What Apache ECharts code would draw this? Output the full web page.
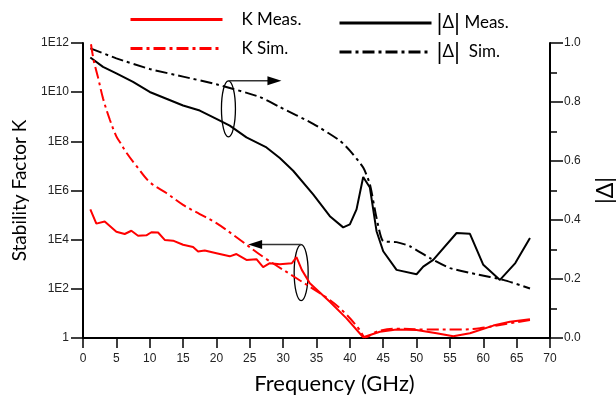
<!DOCTYPE html>
<html>
<head>
<meta charset="utf-8">
<script src="https://cdn.jsdelivr.net/npm/echarts@6/dist/echarts.min.js"></script>
<style>
  html, body { margin: 0; padding: 0; background: #fff; }
  #chart { width: 616px; height: 401px; }
</style>
</head>
<body>
<div id="chart"></div>
<script>
// K measured (left log axis)
const kMeasFreq = [1.1, 2.0, 3.25, 5.0, 6.25, 7.25, 8.25, 9.5, 10.25, 11.25, 12.25, 13.5, 15, 16.5, 17.25, 18.25, 20, 22, 23, 24.5, 26, 27, 28, 29.5, 31.3, 32, 32.8, 34, 37, 39.5, 42, 44.5, 47, 50, 53, 55.5, 58, 61.5, 64, 67];
const kMeas = [1.7e5, 4.5e4, 5.5e4, 2.1e4, 1.7e4, 2.3e4, 1.45e4, 1.5e4, 2.0e4, 1.95e4, 9.8e3, 9.1e3, 6.2e3, 5.0e3, 3.3e3, 3.6e3, 2.8e3, 2.1e3, 2.6e3, 1.5e3, 1.6e3, 760, 1.1e3, 1.0e3, 1.1e3, 1.95e3, 590, 170, 30, 6.3, 1.07, 1.8, 2.2, 2.1, 1.55, 1.17, 1.55, 3.2, 4.6, 5.8];

// K simulated (left log axis)
const kSimFreq = [1.2, 1.6, 2.25, 3.0, 4, 5, 5.7, 6.5, 8, 10, 12.5, 15, 17.5, 20, 23, 27, 32, 37, 39.5, 41.5, 42.3, 44, 46.5, 51.5, 56.5, 59.5, 62.5, 67];
const kSim = [8.9e11, 2.0e11, 4.0e10, 5.6e9, 7.9e8, 1.6e8, 7.9e7, 3.5e7, 1.0e7, 2.2e6, 7.9e5, 2.6e5, 1.1e5, 4.7e4, 1.26e4, 2.0e3, 270, 35, 8.9, 2.1, 1.07, 1.8, 2.4, 2.2, 2.2, 2.5, 3.4, 5.4];

// |Delta| measured (right axis)
const dMeasFreq = [1.1, 3, 5, 7.5, 10, 12.5, 15, 17.5, 20, 22, 24.5, 27.5, 29.5, 31.5, 34.5, 37, 39, 40, 41, 42, 43, 44, 45, 47, 50, 51, 52.5, 56, 58, 60, 62.5, 64.8, 67];
const dMeas = [0.951, 0.919, 0.897, 0.868, 0.834, 0.811, 0.788, 0.771, 0.743, 0.72, 0.68, 0.646, 0.61, 0.567, 0.487, 0.413, 0.375, 0.385, 0.436, 0.546, 0.51, 0.362, 0.294, 0.231, 0.216, 0.242, 0.265, 0.356, 0.353, 0.248, 0.197, 0.254, 0.339];

// |Delta| simulated (right axis)
const dSimFreq = [1.1, 5, 10, 15, 20, 26.5, 29.5, 34.5, 38.5, 40, 42, 43, 44, 45, 47, 49, 52, 55, 59, 63, 67];
const dSim = [0.982, 0.948, 0.912, 0.886, 0.86, 0.817, 0.783, 0.726, 0.669, 0.635, 0.578, 0.521, 0.407, 0.328, 0.325, 0.311, 0.271, 0.237, 0.216, 0.197, 0.168];

const freqTicks = { min: 0, max: 70, interval: 5 };
const deltaTicks = { min: 0, max: 1, interval: 0.2 };

const pairs = (xs, ys) => xs.map((x, i) => [x, ys[i]]);
const dashDot = [12, 4, 3, 4];
const tickFont = { fontFamily: 'Liberation Sans', fontSize: 12, color: '#222' };
const titleFont = 'Lato';

const chart = echarts.init(document.getElementById('chart'));

function legendAt(name, left, top) {
  return {
    data: [name],
    left: left,
    top: top,
    padding: 0,
    itemWidth: 92,
    itemHeight: 14,
    selectedMode: false,
    itemStyle: { opacity: 0, borderWidth: 0 },
    lineStyle: { width: 3 },
    textStyle: {
      fontFamily: titleFont,
      fontSize: 17,
      color: '#000',
      padding: name.startsWith('K') ? [0, 0, 0, 14] : [0, 0, 0, 0],
      rich: { b: { fontSize: 24, fontFamily: titleFont, color: '#000' } }
    },
    formatter: n => n.startsWith('K') ? n : n.replace(/\|/g, '{b||}')
  };
}

const option = {
  animation: false,
  grid: { left: 83, right: 66, top: 43, bottom: 63, outerBoundsMode: 'none', containLabel: false },
  legend: [
    legendAt('K Meas.', 129, 11),
    legendAt('K Sim.', 129, 40),
    legendAt('|Δ| Meas.', 338, 11),
    legendAt('|Δ|  Sim.', 338, 40)
  ],
  xAxis: {
    type: 'value',
    min: freqTicks.min,
    max: freqTicks.max,
    interval: freqTicks.interval,
    name: 'Frequency (GHz)',
    nameLocation: 'middle',
    nameGap: 35,
    nameTextStyle: { fontFamily: titleFont, fontSize: 22, color: '#000', padding: [0, 0, 0, 36] },
    axisLine: { lineStyle: { color: '#000', width: 2 } },
    axisTick: { length: 10, lineStyle: { color: '#000', width: 1.5 } },
    axisLabel: Object.assign({ margin: 15 }, tickFont),
    splitLine: { show: false }
  },
  yAxis: [
    {
      type: 'log',
      logBase: 10,
      min: 1,
      max: 1e12,
      interval: 2,
      name: 'Stability Factor K',
      nameLocation: 'middle',
      nameRotate: 90,
      nameGap: 54,
      nameTextStyle: { fontFamily: titleFont, fontSize: 19, color: '#000' },
      axisLine: { show: true, lineStyle: { color: '#000', width: 2 } },
      axisTick: { length: 12, lineStyle: { color: '#000', width: 1.5 } },
      axisLabel: Object.assign({
        margin: 14,
        formatter: v => v <= 1 ? '1' : '1E' + Math.round(Math.log10(v))
      }, tickFont),
      splitLine: { show: false }
    },
    {
      type: 'value',
      position: 'right',
      min: deltaTicks.min,
      max: deltaTicks.max,
      interval: deltaTicks.interval,
      name: '|Δ|',
      nameLocation: 'middle',
      nameRotate: 90,
      nameGap: 44,
      nameTextStyle: { fontFamily: titleFont, fontSize: 23, color: '#000' },
      axisLine: { show: true, lineStyle: { color: '#000', width: 2 } },
      axisTick: { length: 13, lineStyle: { color: '#000', width: 1.5 } },
      minorTick: { show: true, splitNumber: 2, length: 7, lineStyle: { color: '#000', width: 1.5 } },
      axisLabel: Object.assign({ margin: 14, formatter: v => v.toFixed(1) }, tickFont),
      splitLine: { show: false }
    }
  ],
  series: [
    {
      name: '|Δ| Meas.', type: 'line', yAxisIndex: 1, showSymbol: false, symbol: 'none',
      data: pairs(dMeasFreq, dMeas),
      lineStyle: { color: '#000', width: 2 }, itemStyle: { color: '#000' }
    },
    {
      name: '|Δ|  Sim.', type: 'line', yAxisIndex: 1, showSymbol: false, symbol: 'none', smooth: 0.2,
      data: pairs(dSimFreq, dSim),
      lineStyle: { color: '#000', width: 2, type: dashDot }, itemStyle: { color: '#000' }
    },
    {
      name: 'K Meas.', type: 'line', yAxisIndex: 0, showSymbol: false, symbol: 'none',
      data: pairs(kMeasFreq, kMeas),
      lineStyle: { color: '#ff0000', width: 2 }, itemStyle: { color: '#ff0000' }
    },
    {
      name: 'K Sim.', type: 'line', yAxisIndex: 0, showSymbol: false, symbol: 'none', smooth: 0.35,
      data: pairs(kSimFreq, kSim),
      lineStyle: { color: '#ff0000', width: 2, type: dashDot }, itemStyle: { color: '#ff0000' }
    }
  ]
};

chart.setOption(option);

// annotation ellipses with arrows, anchored to data coordinates
const c1 = chart.convertToPixel({ xAxisIndex: 0, yAxisIndex: 1 }, [21.8, 0.777]);
const c2 = chart.convertToPixel({ xAxisIndex: 0, yAxisIndex: 0 }, [32.7, 460]);
const rx = 7, ry = 28;
const arrowLen = 53;
chart.setOption({
  graphic: [
    { type: 'ellipse', shape: { cx: c1[0], cy: c1[1], rx: rx, ry: ry }, style: { fill: null, stroke: '#000', lineWidth: 1.3 } },
    { type: 'line', shape: { x1: c1[0], y1: c1[1] - ry, x2: c1[0] + arrowLen - 12, y2: c1[1] - ry }, style: { stroke: '#333', lineWidth: 1.5 } },
    { type: 'polygon', shape: { points: [[c1[0] + arrowLen, c1[1] - ry], [c1[0] + arrowLen - 14, c1[1] - ry - 4.5], [c1[0] + arrowLen - 14, c1[1] - ry + 4.5]] }, style: { fill: '#000' } },
    { type: 'ellipse', shape: { cx: c2[0], cy: c2[1], rx: rx, ry: ry }, style: { fill: null, stroke: '#000', lineWidth: 1.3 } },
    { type: 'line', shape: { x1: c2[0], y1: c2[1] - ry, x2: c2[0] - arrowLen + 12, y2: c2[1] - ry }, style: { stroke: '#333', lineWidth: 1.5 } },
    { type: 'polygon', shape: { points: [[c2[0] - arrowLen, c2[1] - ry], [c2[0] - arrowLen + 14, c2[1] - ry - 4.5], [c2[0] - arrowLen + 14, c2[1] - ry + 4.5]] }, style: { fill: '#000' } }
  ]
});
</script>
</body>
</html>
